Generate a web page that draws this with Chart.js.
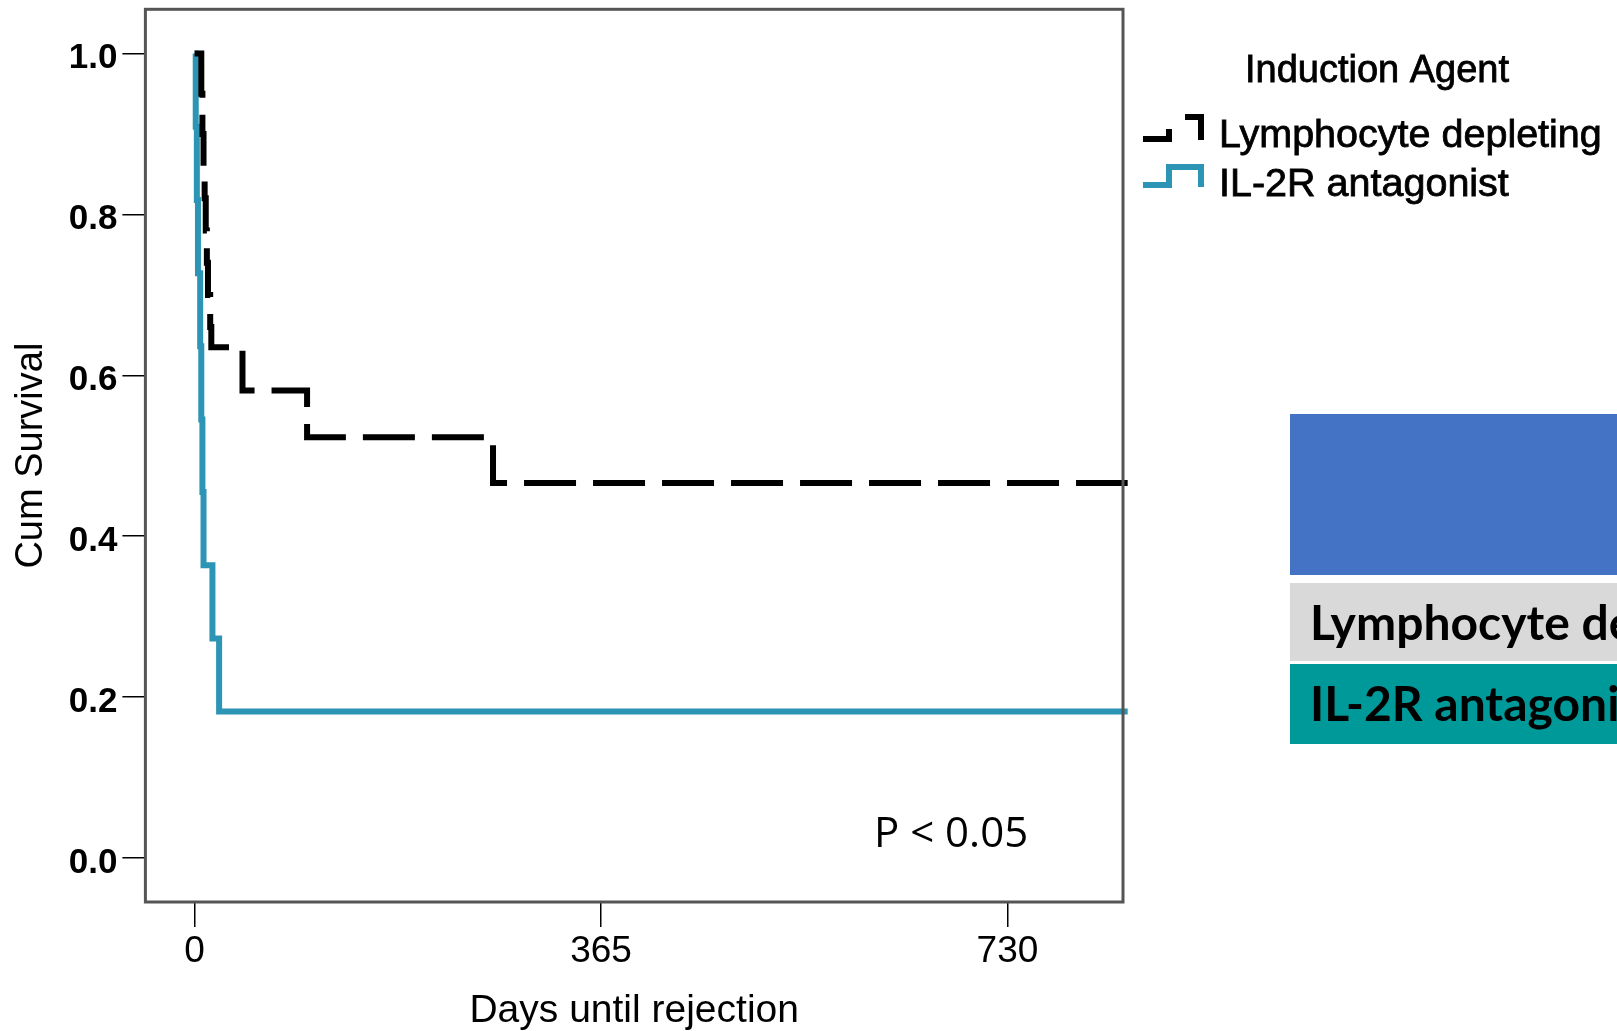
<!DOCTYPE html>
<html>
<head>
<meta charset="utf-8">
<script src="https://cdn.jsdelivr.net/npm/chart.js@4.4.0/dist/chart.umd.min.js"></script>
<style>
html, body { margin: 0; padding: 0; background: #fff; }
#wrap { width: 1617px; height: 1031px; position: relative; overflow: hidden; }
</style>
</head>
<body>
<div id="wrap"><canvas id="km" width="1617" height="1031"></canvas></div>
<script>
// Kaplan-Meier steps (days, cumulative survival after each drop)
const lymphDays = [0, 6, 7, 8, 9, 10, 11, 12, 14, 15, 43, 101, 268, 838];
const lymphSurv = [1.0, 0.95, 0.90, 0.86, 0.82, 0.78, 0.74, 0.70, 0.66, 0.635, 0.581, 0.523, 0.466, 0.466];

const il2Days = [0, 1, 2, 3, 5, 6, 7, 8, 16, 22, 838];
const il2Surv = [1.0, 0.909, 0.818, 0.727, 0.636, 0.545, 0.455, 0.364, 0.273, 0.182, 0.182];

const xTicks = [0, 365, 730];
const yTicks = [0, 0.2, 0.4, 0.6, 0.8, 1.0];

const seriesNames = ['Lymphocyte depleting', 'IL-2R antagonist'];
const legendTitle = 'Induction Agent';
const pValueText = 'P < 0.05';

const BLACK = '#000000';
const BLUE = '#2c94b5';

function toPoints(days, surv) {
    return days.map((d, i) => ({ x: d, y: surv[i] }));
}

// slightly heavier text, like the SPSS export
function heavyText(ctx, text, x, y, w) {
    ctx.fillText(text, x, y);
    ctx.lineWidth = w;
    ctx.strokeStyle = ctx.fillStyle;
    ctx.strokeText(text, x, y);
}

// Frame, legend, p-value and the cropped table on the right
const extrasPlugin = {
    id: 'extras',
    afterDraw(chart) {
        const ctx = chart.ctx;
        const a = chart.chartArea;
        ctx.save();

        // plot frame
        ctx.strokeStyle = '#555555';
        ctx.lineWidth = 3;
        ctx.strokeRect(a.left, a.top, a.right - a.left, a.bottom - a.top);

        // legend title
        ctx.fillStyle = '#000';
        ctx.font = '38px "Liberation Sans", Arial, sans-serif';
        ctx.textAlign = 'center';
        ctx.textBaseline = 'alphabetic';
        heavyText(ctx, legendTitle, 1377, 82, 0.8);

        // legend entries
        ctx.textAlign = 'left';
        ctx.font = '39.5px "Liberation Sans", Arial, sans-serif';
        heavyText(ctx, seriesNames[0], 1219, 147, 0.8);
        heavyText(ctx, seriesNames[1], 1219, 196, 0.8);

        // legend icons (step shapes)
        ctx.lineWidth = 6;
        ctx.lineCap = 'butt';
        ctx.lineJoin = 'miter';
        ctx.strokeStyle = BLACK;
        ctx.setLineDash([36, 28, 45]);
        ctx.beginPath();
        ctx.moveTo(1143, 139);
        ctx.lineTo(1169, 139);
        ctx.lineTo(1169, 117);
        ctx.lineTo(1201, 117);
        ctx.lineTo(1201, 140);
        ctx.stroke();
        ctx.setLineDash([]);
        ctx.strokeStyle = BLUE;
        ctx.beginPath();
        ctx.moveTo(1143, 185);
        ctx.lineTo(1169, 185);
        ctx.lineTo(1169, 167);
        ctx.lineTo(1201, 167);
        ctx.lineTo(1201, 187);
        ctx.stroke();

        // p-value
        ctx.fillStyle = '#000';
        ctx.font = '42px "Open Sans", sans-serif';
        ctx.fillText(pValueText, 874, 847);

        // table fragment on the right
        ctx.fillStyle = '#4472c4';
        ctx.fillRect(1290, 414, 327, 161);
        ctx.fillStyle = '#d9d9d9';
        ctx.fillRect(1290, 583, 327, 78);
        ctx.fillStyle = '#009999';
        ctx.fillRect(1290, 664, 327, 80);
        ctx.fillStyle = '#000';
        ctx.font = 'bold 48px Lato, "Open Sans", sans-serif';
        ctx.textBaseline = 'alphabetic';
        ctx.fillText(seriesNames[0], 1310, 640);
        ctx.fillText(seriesNames[1], 1310, 721);

        ctx.restore();
    }
};

const ctx = document.getElementById('km').getContext('2d');
new Chart(ctx, {
    type: 'line',
    data: {
        datasets: [
            {
                label: seriesNames[0],
                data: toPoints(lymphDays, lymphSurv),
                borderColor: BLACK,
                borderWidth: 6,
                borderDash: [52, 17],
                borderCapStyle: 'butt',
                borderJoinStyle: 'miter',
                stepped: true,
                pointRadius: 0,
                fill: false,
                clip: false
            },
            {
                label: seriesNames[1],
                data: toPoints(il2Days, il2Surv),
                borderColor: BLUE,
                borderWidth: 6,
                borderCapStyle: 'butt',
                borderJoinStyle: 'miter',
                stepped: true,
                pointRadius: 0,
                fill: false,
                clip: false
            }
        ]
    },
    options: {
        responsive: false,
        animation: false,
        devicePixelRatio: 1,
        layout: { padding: { left: 0, top: 9.3, right: 494, bottom: 0 } },
        plugins: {
            legend: { display: false },
            tooltip: { enabled: false }
        },
        scales: {
            x: {
                type: 'linear',
                min: -44.2,
                max: 833.8,
                afterBuildTicks: (scale) => { scale.ticks = xTicks.map(v => ({ value: v })); },
                afterFit: (scale) => {
                    scale.height = 129;
                    scale.paddingLeft = 0;
                    scale.paddingRight = 0;
                },
                border: { display: false },
                grid: { drawOnChartArea: false, drawTicks: true, tickLength: 25, color: '#000', lineWidth: 1.5 },
                ticks: {
                    color: '#000',
                    font: { family: '"Liberation Sans", Arial, sans-serif', size: 37 },
                    padding: 3,
                    maxRotation: 0,
                    autoSkip: false
                },
                title: {
                    display: true,
                    text: 'Days until rejection',
                    color: '#000',
                    font: { family: '"Liberation Sans", Arial, sans-serif', size: 39, lineHeight: 1 },
                    padding: 0
                }
            },
            y: {
                type: 'linear',
                min: -0.0547,
                max: 1.055,
                afterBuildTicks: (scale) => { scale.ticks = yTicks.map(v => ({ value: v })); },
                afterFit: (scale) => {
                    scale.width = 145.4;
                    scale.paddingTop = 0;
                    scale.paddingBottom = 0;
                },
                border: { display: false },
                grid: { drawOnChartArea: false, drawTicks: true, tickLength: 23, color: '#000', lineWidth: 1.5 },
                ticks: {
                    color: '#000',
                    font: { family: '"Liberation Sans", Arial, sans-serif', size: 35, weight: 'bold' },
                    padding: 5,
                    labelOffset: 5,
                    callback: (v) => Number(v).toFixed(1)
                },
                title: {
                    display: true,
                    text: 'Cum Survival',
                    color: '#000',
                    font: { family: '"Liberation Sans", Arial, sans-serif', size: 38, lineHeight: 1 },
                    padding: { top: 13, bottom: 0 }
                }
            }
        }
    },
    plugins: [extrasPlugin]
});
</script>
</body>
</html>
